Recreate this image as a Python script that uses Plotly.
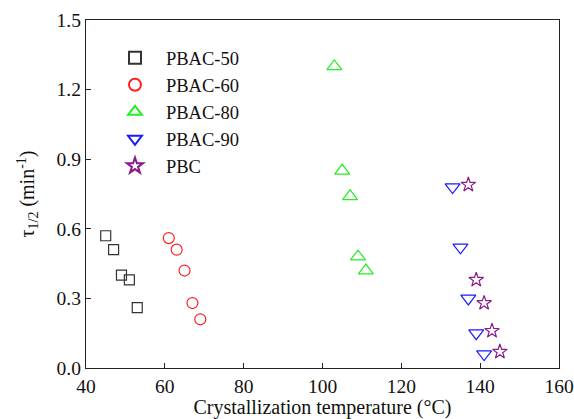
import plotly.graph_objects as go

names = ["PBAC-50", "PBAC-60", "PBAC-80", "PBAC-90", "PBC"]
temps = [
    [45, 47, 49, 51, 53],
    [61, 63, 65, 67, 69],
    [103, 105, 107, 109, 111],
    [133, 135, 137, 139, 141],
    [137, 139, 141, 143, 145],
]
tau = [
    [0.57, 0.51, 0.40, 0.38, 0.26],
    [0.56, 0.51, 0.42, 0.28, 0.21],
    [1.30, 0.85, 0.74, 0.48, 0.42],
    [0.78, 0.52, 0.30, 0.15, 0.06],
    [0.79, 0.38, 0.28, 0.16, 0.07],
]
symbols = ["square-open", "circle-open", "triangle-up-open", "triangle-down-open", "star-open"]
colors = ["#333333", "#ff2020", "#22ee22", "#1a1aff", "#8b1a8b"]
sizes = [10, 11, 13, 13, 11]

FONT = "Liberation Serif, Times New Roman, serif"

fig = go.Figure()
for n, x, y, s, c, sz in zip(names, temps, tau, symbols, colors, sizes):
    fig.add_trace(go.Scatter(x=x, y=y, mode="markers", name=n,
                             marker=dict(symbol=s, size=sz, color=c, line=dict(width=1.2, color=c))))

axis_common = dict(showline=True, linecolor="#222", linewidth=1.3, mirror=True,
                   ticks="inside", ticklen=5, tickcolor="#222", showgrid=False, zeroline=False,
                   tickfont=dict(family=FONT, size=19.5, color="#111"))
fig.update_xaxes(range=[40, 160], tickvals=[40, 60, 80, 100, 120, 140, 160],
                 title=dict(text="Crystallization temperature (°C)", standoff=1,
                            font=dict(family=FONT, size=20, color="#111")),
                 **axis_common)
fig.update_yaxes(range=[0, 1.5], tickvals=[0, 0.3, 0.6, 0.9, 1.2, 1.5], tickformat=".1f",
                 title=dict(text="τ<sub>1/2</sub> (min<sup>-1</sup>)", standoff=16,
                            font=dict(family=FONT, size=20, color="#111")),
                 **axis_common)
fig.update_layout(
    width=574, height=419,
    margin=dict(l=86, r=15, t=20, b=51, autoexpand=False),
    plot_bgcolor="white", paper_bgcolor="white",
    legend=dict(x=0.038, y=0.945, xanchor="left", yanchor="top",
                font=dict(family=FONT, size=18.5, color="#111"),
                bgcolor="rgba(0,0,0,0)", tracegroupgap=0, itemsizing="constant", itemwidth=52),
)
fig.write_html("out.html", config={"displayModeBar": False},
               post_script="document.body.style.margin='0';document.body.style.overflow='hidden';")
